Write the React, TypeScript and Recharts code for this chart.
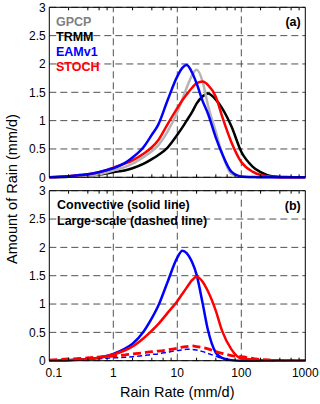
import React from 'react';
import { LineChart, Line, XAxis, YAxis, CartesianGrid, ReferenceLine } from 'recharts';

// rain rate bins (mm/d), shared by every curve
const rates = [0.1, 0.2, 0.3, 0.5, 0.7, 1, 1.5, 2, 3, 4, 5, 7, 10, 12, 14, 17, 20, 25, 30, 40, 50, 70, 100, 150, 200, 300, 500, 1000];

// panel (a): total rain amount
const gpcp = [0, 0.01, 0.02, 0.04, 0.07, 0.12, 0.18, 0.24, 0.36, 0.46, 0.56, 0.8, 1.15, 1.38, 1.58, 1.8, 1.9, 1.68, 1.28, 0.8, 0.43, 0.06, 0.01, 0, 0, 0, 0, 0];
const trmm = [0, 0.01, 0.02, 0.04, 0.06, 0.09, 0.12, 0.16, 0.24, 0.32, 0.39, 0.52, 0.75, 0.88, 1.0, 1.15, 1.3, 1.43, 1.48, 1.37, 1.22, 0.9, 0.45, 0.19, 0.09, 0.02, 0.005, 0];
const eam = [0, 0.02, 0.04, 0.07, 0.11, 0.16, 0.25, 0.35, 0.54, 0.75, 0.92, 1.35, 1.78, 1.93, 1.98, 1.85, 1.66, 1.34, 1.13, 0.7, 0.42, 0.1, 0.015, 0.005, 0, 0, 0, 0];
const stoch = [0, 0.02, 0.04, 0.07, 0.11, 0.17, 0.24, 0.3, 0.42, 0.53, 0.65, 0.93, 1.22, 1.36, 1.46, 1.58, 1.66, 1.69, 1.63, 1.42, 1.08, 0.62, 0.27, 0.1, 0.04, 0.01, 0, 0];

// panel (b): convective / large-scale split
const convEam = [0, 0.01, 0.02, 0.04, 0.07, 0.12, 0.21, 0.3, 0.52, 0.75, 0.96, 1.38, 1.82, 1.94, 1.9, 1.74, 1.52, 1.0, 0.55, 0.14, 0.05, 0.01, 0, 0, 0, 0, 0, 0];
const convStoch = [0, 0.01, 0.02, 0.04, 0.07, 0.11, 0.18, 0.25, 0.4, 0.53, 0.64, 0.84, 1.05, 1.18, 1.29, 1.42, 1.48, 1.39, 1.23, 0.88, 0.53, 0.2, 0.04, 0.02, 0.01, 0.01, 0.005, 0];
const lsEam = [0, 0.01, 0.02, 0.03, 0.04, 0.05, 0.06, 0.07, 0.09, 0.11, 0.12, 0.15, 0.18, 0.19, 0.2, 0.2, 0.19, 0.16, 0.13, 0.08, 0.04, 0.01, 0, 0, 0, 0, 0, 0];
const lsStoch = [0.01, 0.03, 0.04, 0.06, 0.07, 0.08, 0.1, 0.12, 0.14, 0.16, 0.17, 0.19, 0.22, 0.24, 0.25, 0.26, 0.25, 0.23, 0.21, 0.16, 0.13, 0.09, 0.07, 0.04, 0.02, 0.01, 0, 0];

const xMajor = [0.1, 1, 10, 100, 1000];
const xMinor = [0.2, 0.4, 0.6, 0.8, 2, 4, 6, 8, 20, 40, 60, 80, 200, 400, 600, 800];
const xGrid = [1, 10, 100];
const yTicks = [0, 0.5, 1, 1.5, 2, 2.5, 3];

const FONT = '"Liberation Sans", Arial, sans-serif';
const GRID = '#505050';
const DASH = '7 4';

const panelA = rates.map((rate, i) => ({ rate, gpcp: gpcp[i], trmm: trmm[i], eam: eam[i], stoch: stoch[i] }));
const panelB = rates.map((rate, i) => ({
  rate,
  convEam: convEam[i],
  convStoch: convStoch[i],
  lsEam: lsEam[i],
  lsStoch: lsStoch[i],
}));

const BottomTick = (props: any) => {
  const { x, y, payload, labels } = props;
  const major = xMajor.includes(payload.value);
  // first label sits a little right of its tick, clear of the y label "0"
  const dx = payload.value === xMajor[0] ? 4.5 : 0;
  return (
    <g>
      {!major && <line x1={x} x2={x} y1={y} y2={y - 3} stroke="#000" />}
      {major && labels && (
        <text x={x + dx} y={y + 16} textAnchor="middle" fontSize={12} fontFamily={FONT} fill="#000">
          {payload.value}
        </text>
      )}
    </g>
  );
};

const TopTick = (props: any) => {
  const { x, y } = props;
  return <line x1={x} x2={x} y1={y} y2={y + 3} stroke="#000" />;
};

const Panel = ({ data, top, height, topH, bottomH, labels, children }: any) => (
  <div style={{ position: 'absolute', left: 0, top }}>
    <LineChart width={320} height={height} data={data} margin={{ top: 0, right: 0, bottom: 0, left: 0 }}>
      <CartesianGrid vertical={false} stroke={GRID} strokeDasharray={DASH} />
      {xGrid.map((v) => (
        <ReferenceLine key={v} x={v} stroke={GRID} strokeDasharray={DASH} />
      ))}
      <XAxis
        dataKey="rate"
        type="number"
        scale="log"
        domain={[0.1, 1000]}
        ticks={[...xMajor, ...xMinor]}
        interval={0}
        height={bottomH}
        tickSize={0}
        tickMargin={0}
        tickLine={false}
        axisLine={{ stroke: '#000' }}
        tick={(p: any) => <BottomTick {...p} labels={labels} />}
      />
      <XAxis
        xAxisId="top"
        orientation="top"
        dataKey="rate"
        type="number"
        scale="log"
        domain={[0.1, 1000]}
        ticks={xMinor}
        interval={0}
        height={topH}
        tickSize={0}
        tickMargin={0}
        tickLine={false}
        axisLine={{ stroke: '#000' }}
        tick={TopTick}
      />
      <YAxis
        type="number"
        domain={[0, 3]}
        ticks={yTicks}
        interval={0}
        width={49.3}
        tickSize={0}
        tickMargin={3.5}
        tickLine={false}
        axisLine={{ stroke: '#000' }}
        tick={{ fontSize: 12, fill: '#000', fontFamily: FONT }}
      />
      <YAxis yAxisId="right" orientation="right" domain={[0, 3]} width={14.7} tick={false} tickLine={false} axisLine={{ stroke: '#000' }} />
      {children}
    </LineChart>
  </div>
);

const bold = { fontFamily: FONT, fontWeight: 700, fontSize: 12.5 };

export default function App() {
  return (
    <div style={{ position: 'absolute', left: 0, top: 0, width: 320, height: 404, background: '#fff' }}>
      <Panel data={panelA} top={0} height={184} topH={7.3} bottomH={6.7} labels={false}>
        <Line dataKey="trmm" type="monotone" stroke="#000" strokeWidth={2.5} dot={false} isAnimationActive={false} />
        <Line dataKey="gpcp" type="monotone" stroke="#b5b5b5" strokeWidth={2.5} dot={false} isAnimationActive={false} />
        <Line dataKey="stoch" type="monotone" stroke="#ff0000" strokeWidth={2.5} dot={false} isAnimationActive={false} />
        <Line dataKey="eam" type="monotone" stroke="#0000ff" strokeWidth={2.5} dot={false} isAnimationActive={false} />
      </Panel>
      <Panel data={panelB} top={184} height={220} topH={6.7} bottomH={43.3} labels={true}>
        <Line dataKey="lsEam" type="monotone" stroke="#0000ff" strokeWidth={1.5} strokeDasharray="5 3" dot={false} isAnimationActive={false} />
        <Line dataKey="convEam" type="monotone" stroke="#0000ff" strokeWidth={2.5} dot={false} isAnimationActive={false} />
        <Line dataKey="convStoch" type="monotone" stroke="#ff0000" strokeWidth={2.5} dot={false} isAnimationActive={false} />
        <Line dataKey="lsStoch" type="monotone" stroke="#ff0000" strokeWidth={2.8} strokeDasharray="8 4" dot={false} isAnimationActive={false} />
      </Panel>
      <svg width={320} height={404} style={{ position: 'absolute', left: 0, top: 0, pointerEvents: 'none' }}>
        <g dominantBaseline="central" style={bold}>
          <text x={56} y={21.7} fill="#808080">GPCP</text>
          <text x={56} y={36.7} fill="#000">TRMM</text>
          <text x={56} y={51.7} fill="#0000ff">EAMv1</text>
          <text x={56} y={66.7} fill="#ff0000">STOCH</text>
          <text x={300.7} y={22} textAnchor="end" fill="#000">(a)</text>
          <text x={57} y={205} fill="#000">Convective (solid line)</text>
          <text x={57} y={220.7} fill="#000">Large-scale (dashed line)</text>
          <text x={300.7} y={206} textAnchor="end" fill="#000">(b)</text>
        </g>
        <text x={177.3} y={392} textAnchor="middle" dominantBaseline="central" fontFamily={FONT} fontSize={14.5} fill="#000">
          Rain Rate (mm/d)
        </text>
        <text
          x={12}
          y={189}
          transform="rotate(-90 12 189)"
          textAnchor="middle"
          dominantBaseline="central"
          fontFamily={FONT}
          fontSize={14.5}
          fill="#000"
        >
          Amount of Rain (mm/d)
        </text>
      </svg>
    </div>
  );
}
